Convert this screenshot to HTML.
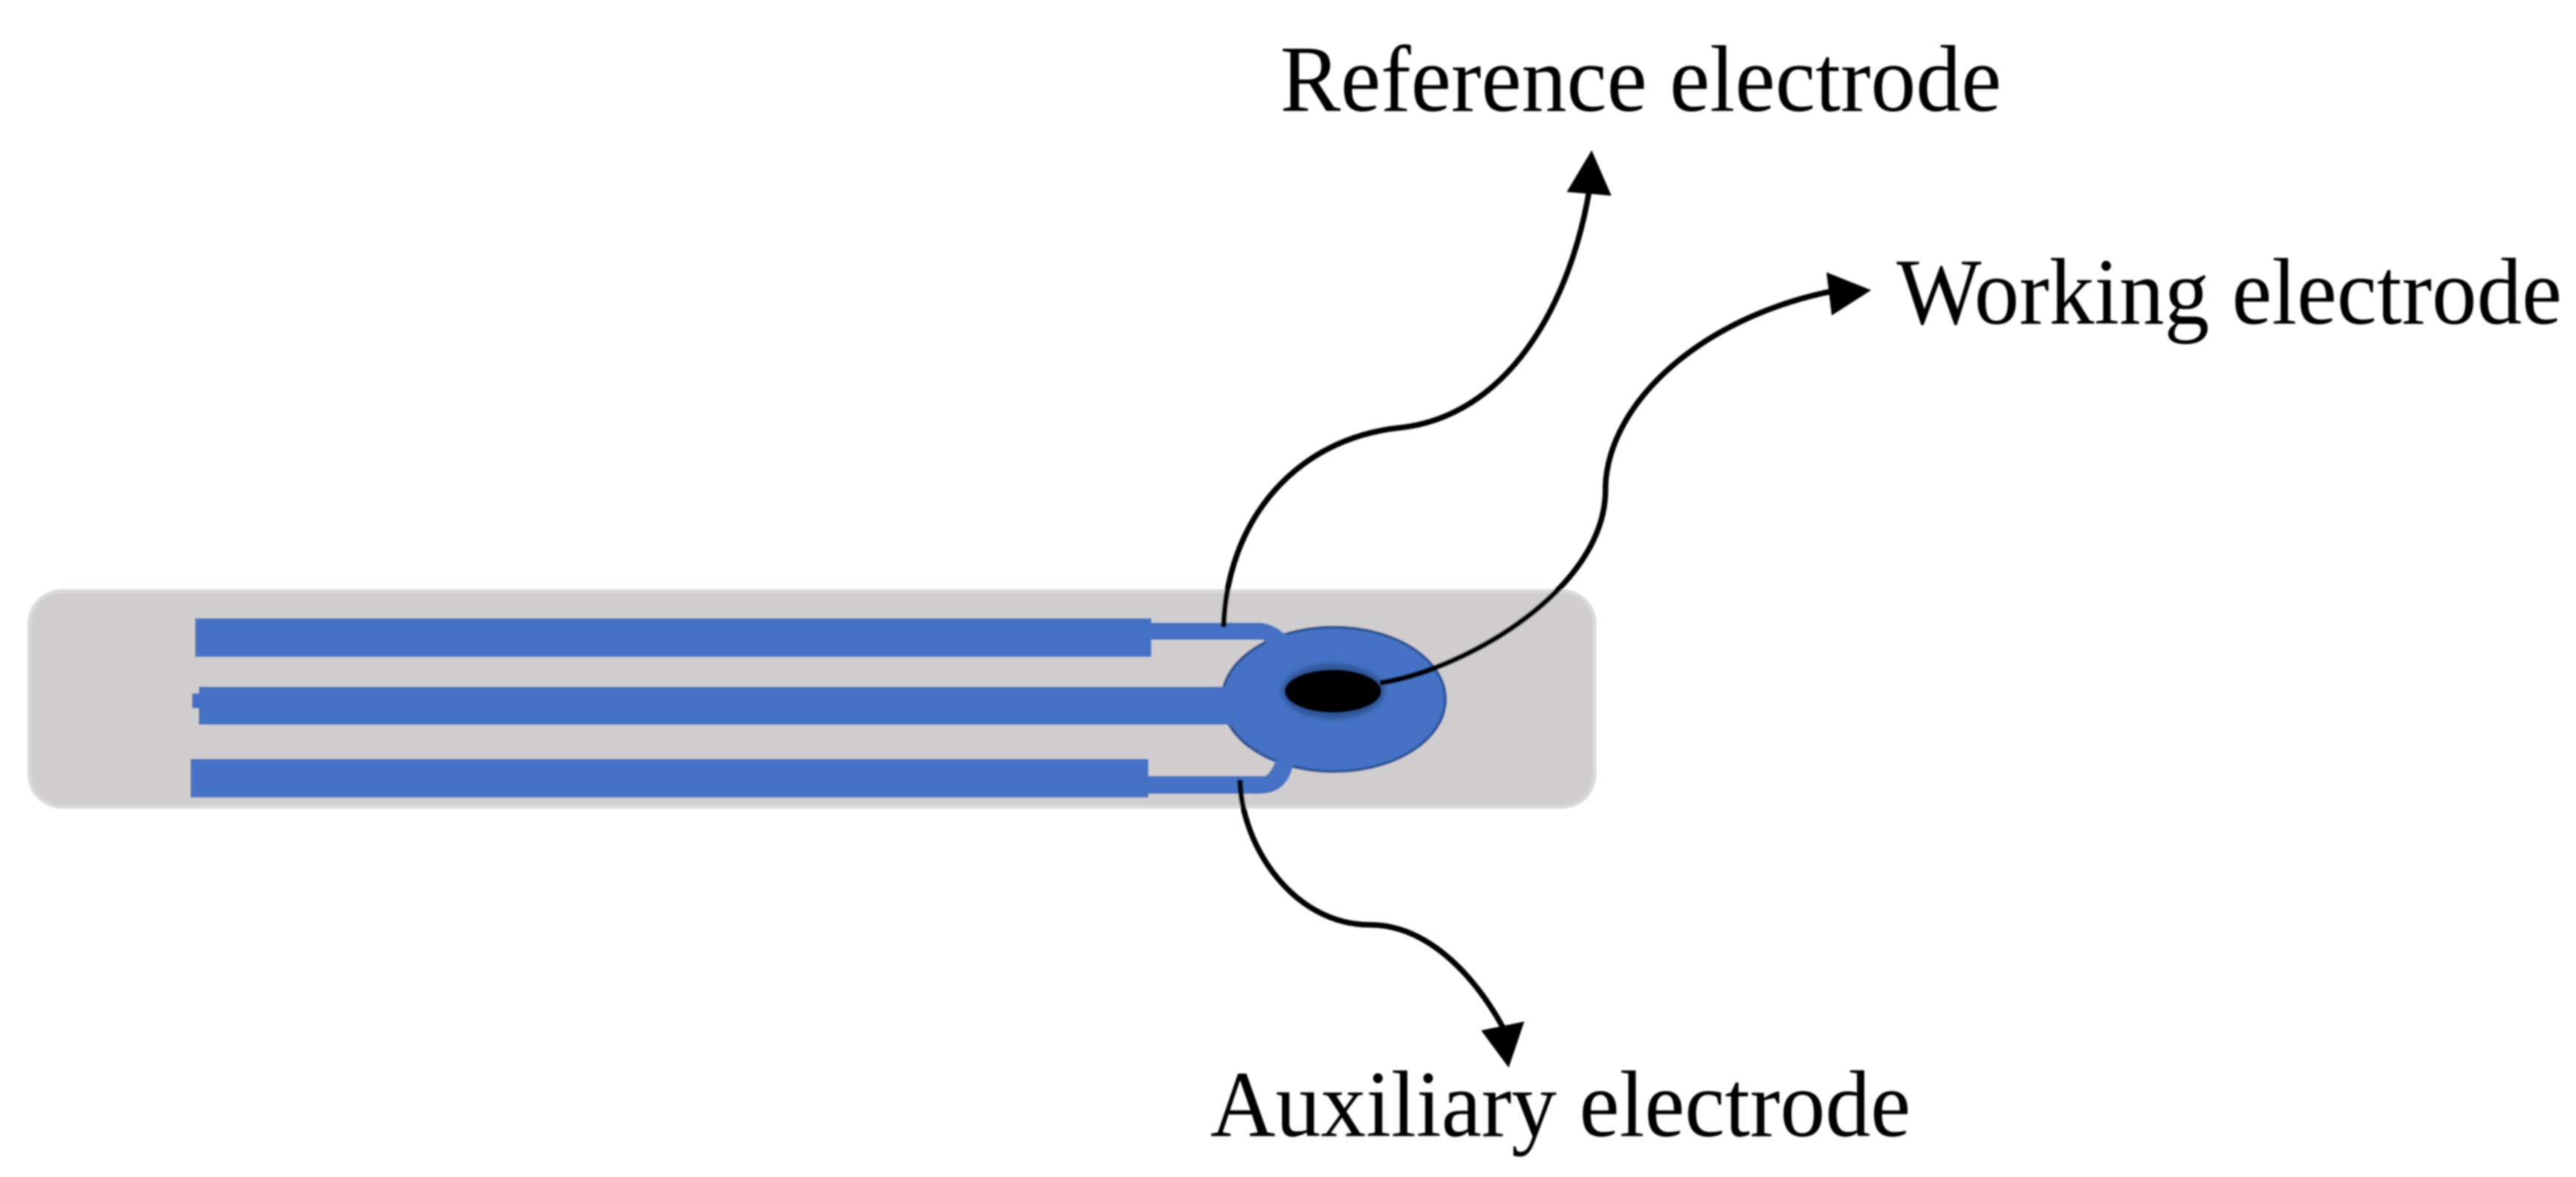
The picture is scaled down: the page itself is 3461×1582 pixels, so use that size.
<!DOCTYPE html>
<html>
<head>
<meta charset="utf-8">
<style>
html,body{margin:0;padding:0;background:#fff;width:3461px;height:1582px;overflow:hidden}
svg{display:block}
text{font-family:"Liberation Serif","Times New Roman",serif;font-size:127px;fill:#000}
</style>
</head>
<body>
<svg width="3461" height="1582" viewBox="0 0 3461 1582" xmlns="http://www.w3.org/2000/svg">
<defs>
<filter id="b" x="-5%" y="-5%" width="110%" height="110%"><feGaussianBlur stdDeviation="1.1"/></filter>
<filter id="h" x="-20%" y="-30%" width="140%" height="160%"><feGaussianBlur stdDeviation="3"/></filter>
</defs>
<rect width="3461" height="1582" fill="#fff"/>
<g filter="url(#b)">
<!-- strip -->
<rect x="39.5" y="794.5" width="2103" height="290" rx="44" ry="44" fill="#d0cece" stroke="#dadada" stroke-width="5"/>
<!-- bars -->
<g fill="#4472c4" stroke="#d9d3ca" stroke-width="1.5" paint-order="stroke">
<rect x="262" y="831" width="1285" height="52"/>
<rect x="256" y="1020" width="1287" height="52"/>
</g>
<!-- electrode disc -->
<ellipse cx="1792" cy="940" rx="150" ry="97" fill="#4472c4" stroke="#2f5597" stroke-width="4"/>
<g fill="#4472c4">
<!-- top connector -->
<path d="M1545 837H1693Q1714 839 1730 856L1712 872L1697 860H1545Z"/>
<!-- bottom connector -->
<path d="M1540 1043H1700Q1708 1038 1714 1022L1738 1026Q1730 1067 1692 1067H1540Z"/>
<!-- centre bar -->
<path d="M267 923H1645L1680 940L1654 977L1650 974H267Z"/>
<rect x="258" y="932" width="12" height="20" fill="#3f6fc6"/>
</g>
<!-- working electrode -->
<ellipse cx="1791" cy="929" rx="69" ry="37" fill="#2f5597" filter="url(#h)"/>
<ellipse cx="1791" cy="929" rx="65" ry="29" fill="#000"/>
<!-- connectors -->
<g fill="none" stroke="#000" stroke-linecap="butt" stroke-linejoin="round">
<path stroke-width="7.5" d="M1644 843C1648 700 1740 590 1880 575C2025 560 2112 410 2137 245"/>
<path stroke-width="7.5" d="M1854 918C1970 900 2160 790 2157 655C2160 540 2290 420 2480 388"/>
<path stroke-width="7.5" d="M1666 1048C1668 1140 1740 1243 1840 1243C1920 1243 1985 1315 2023 1388"/>
</g>
<g fill="#000">
<polygon points="2138.5,202 2165,263 2105,258"/>
<polygon points="2514,390 2454,366 2461,424"/>
<polygon points="2027,1435 1990,1385 2048,1373"/>
</g>
<!-- labels -->
<text x="1720" y="149" textLength="969" lengthAdjust="spacingAndGlyphs">Reference electrode</text>
<text x="2548" y="435" textLength="894" lengthAdjust="spacingAndGlyphs">Working electrode</text>
<text x="1626" y="1527" textLength="941" lengthAdjust="spacingAndGlyphs">Auxiliary electrode</text>
</g>
</svg>
</body>
</html>
